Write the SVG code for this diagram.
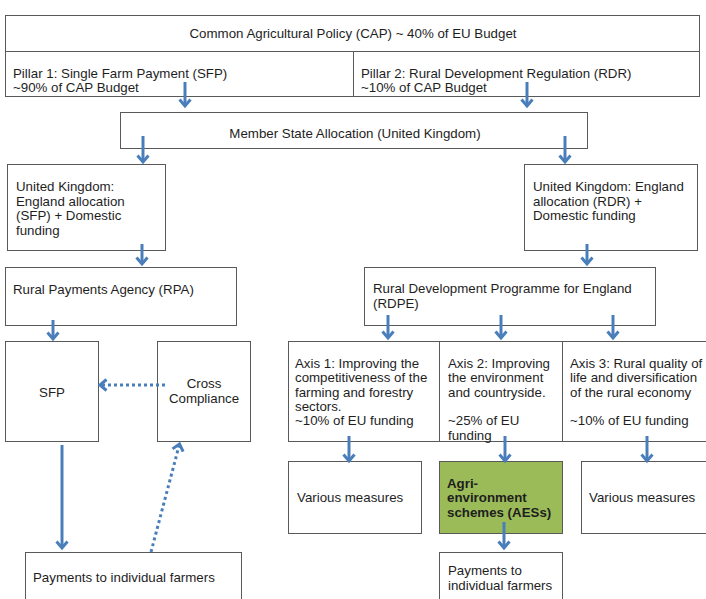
<svg xmlns="http://www.w3.org/2000/svg" width="706" height="599" viewBox="0 0 706 599">
<style>
.box{fill:#ffffff;stroke:#595959;stroke-width:1}
.green{fill:#9bbb59;stroke:#595959;stroke-width:1}
text{font-family:"Liberation Sans",Arial,sans-serif;font-size:13.3px;fill:#1e1e1e}
.b{font-weight:bold}
.mid{text-anchor:middle}
.arr{fill:none;stroke:#4a7ebb;stroke-width:3;marker-end:url(#ah)}
.dot{stroke-dasharray:3 3}
</style>
<defs>
<marker id="ah" markerUnits="userSpaceOnUse" viewBox="0 0 12 14" markerWidth="12" markerHeight="14" refX="8" refY="7" orient="auto">
<path d="M1.5,1.5 L8,7 L1.5,12.5" fill="none" stroke="#4a7ebb" stroke-width="3"/>
</marker>
</defs>
<rect width="706" height="599" fill="#ffffff"/>

<g id="cap"><rect class="box" x="5.5" y="15.5" width="694" height="36"/><text class="mid" x="353" y="38">Common Agricultural Policy (CAP) ~ 40% of EU Budget</text></g>
<g id="pillar1"><rect class="box" x="5.5" y="51.5" width="348" height="45"/><text x="13" y="78">Pillar 1: Single Farm Payment (SFP)</text><text x="13" y="92">~90% of CAP Budget</text></g>
<g id="pillar2"><rect class="box" x="353.5" y="51.5" width="346" height="45"/><text x="361" y="78">Pillar 2: Rural Development Regulation (RDR)</text><text x="361" y="92">~10% of CAP Budget</text></g>
<g id="msa"><rect class="box" x="120.5" y="112.5" width="467" height="36"/><text class="mid" x="355" y="138">Member State Allocation (United Kingdom)</text></g>
<g id="uk-sfp"><rect class="box" x="7.5" y="164.5" width="158" height="86"/><text x="16" y="191">United Kingdom:</text><text x="16" y="206">England allocation</text><text x="16" y="220">(SFP) + Domestic</text><text x="16" y="235">funding</text></g>
<g id="uk-rdr"><rect class="box" x="524.5" y="164.5" width="173" height="86"/><text x="533" y="191">United Kingdom: England</text><text x="533" y="206">allocation (RDR) +</text><text x="533" y="220">Domestic funding</text></g>
<g id="rpa"><rect class="box" x="5.5" y="267.5" width="231" height="58"/><text x="13" y="294">Rural Payments Agency (RPA)</text></g>
<g id="rdpe"><rect class="box" x="364.5" y="267.5" width="291" height="58"/><text x="373" y="293">Rural Development Programme for England</text><text x="373" y="308">(RDPE)</text></g>
<g id="sfp"><rect class="box" x="5.5" y="341.5" width="93" height="100"/><text class="mid" x="52" y="397">SFP</text></g>
<g id="cross"><rect class="box" x="157.5" y="341.5" width="93" height="100"/><text class="mid" x="204" y="388">Cross</text><text class="mid" x="204" y="403">Compliance</text></g>
<g id="pay-left"><rect class="box" x="25.5" y="552.5" width="216" height="60"/><text x="33" y="582">Payments to individual farmers</text></g>
<g id="axis1"><rect class="box" x="288.5" y="341.5" width="151" height="100"/><text x="295" y="368">Axis 1: Improving the</text><text x="295" y="382">competitiveness of the</text><text x="295" y="397">farming and forestry</text><text x="295" y="411">sectors.</text><text x="295" y="425">~10% of EU funding</text></g>
<g id="axis2"><rect class="box" x="439.5" y="341.5" width="123" height="100"/><text x="448" y="368">Axis 2: Improving</text><text x="448" y="382">the environment</text><text x="448" y="397">and countryside.</text><text x="448" y="425">~25% of EU</text><text x="448" y="440">funding</text></g>
<g id="axis3"><rect class="box" x="562.5" y="341.5" width="160" height="100"/><text x="570" y="368">Axis 3: Rural quality of</text><text x="570" y="382">life and diversification</text><text x="570" y="397">of the rural economy</text><text x="570" y="425">~10% of EU funding</text></g>
<g id="measures1"><rect class="box" x="288.5" y="461.5" width="133" height="72"/><text x="297" y="502">Various measures</text></g>
<g id="aes"><rect class="green" x="439.5" y="461.5" width="123" height="72"/><text class="b" x="447" y="488">Agri-</text><text class="b" x="447" y="502">environment</text><text class="b" x="447" y="517">schemes (AESs)</text></g>
<g id="measures2"><rect class="box" x="581.5" y="461.5" width="140" height="72"/><text x="589" y="502">Various measures</text></g>
<g id="pay-right"><rect class="box" x="439.5" y="552.5" width="123" height="60"/><text x="448" y="575">Payments to</text><text x="448" y="590">individual farmers</text></g>

<g id="connectors">
<line class="arr" x1="185" y1="82" x2="185" y2="106"/>
<line class="arr" x1="527" y1="82" x2="527" y2="106"/>
<line class="arr" x1="143" y1="136" x2="143" y2="162"/>
<line class="arr" x1="565" y1="136" x2="565" y2="162"/>
<line class="arr" x1="142" y1="244" x2="142" y2="264"/>
<line class="arr" x1="587" y1="244" x2="587" y2="264"/>
<line class="arr" x1="53" y1="320" x2="53" y2="339"/>
<line class="arr" x1="388" y1="315" x2="388" y2="338"/>
<line class="arr" x1="501" y1="315" x2="501" y2="338"/>
<line class="arr" x1="613" y1="315" x2="613" y2="338"/>
<line class="arr" x1="349" y1="436" x2="349" y2="461"/>
<line class="arr" x1="505" y1="436" x2="505" y2="461"/>
<line class="arr" x1="647" y1="436" x2="647" y2="461"/>
<line class="arr" x1="504" y1="522" x2="504" y2="548"/>
<line class="arr" x1="62" y1="445" x2="62" y2="548"/>
<line class="arr dot" x1="165" y1="385" x2="100" y2="385"/>
<line class="arr dot" x1="151" y1="552" x2="179.5" y2="444"/>
</g>
</svg>
